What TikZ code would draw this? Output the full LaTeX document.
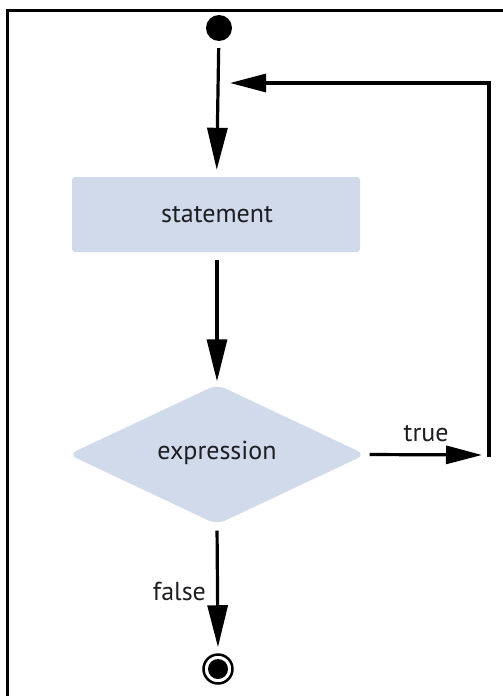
\documentclass[tikz,border=0pt]{standalone}
\usepackage{fontspec}
\setmainfont{PT Sans}
\usetikzlibrary{arrows.meta,shapes.geometric}
\definecolor{boxfill}{RGB}{209,218,234}
\definecolor{ink}{RGB}{30,30,34}
\begin{document}
\begin{tikzpicture}[x=1pt,y=-1pt,
  flow/.style={line width=3.2pt,draw=black},
  vtip/.style={-{Triangle[length=42pt,width=20pt]}},
  htip/.style={-{Triangle[length=36pt,width=18pt]}},
  lbl/.style={font=\fontsize{26}{30}\selectfont,text=ink,inner sep=0pt},
  actbox/.style={rectangle,rounded corners=3pt,fill=boxfill,minimum width=288pt,minimum height=75pt,inner sep=0pt},
  decbox/.style={diamond,rounded corners=9pt,fill=boxfill,minimum width=297pt,minimum height=140pt,aspect=2.12,inner sep=0pt}]
  \useasboundingbox (0,0) rectangle (503,696);
  % frame edges
  \draw[line width=3pt] (7,696) -- (7,10) -- (503,10);
  % nodes
  \node[circle,fill=black,minimum size=26pt,inner sep=0pt] (start) at (219,28) {};
  \node[actbox] (stmt) at (216,214.5) {};
  \node[lbl] at (217,215) {statement};
  \node[decbox] (expr) at (217,454.5) {};
  \node[lbl] at (217,453) {expression};
  \node[circle,draw=black,line width=2.5pt,minimum size=29pt,inner sep=0pt] (stop) at (218,669) {};
  \node[circle,fill=black,minimum size=20pt,inner sep=0pt] at (stop) {};
  % loop-back route
  \coordinate (truetip) at (482,455);
  \coordinate (loopbot) at (489,457);
  \coordinate (loopin) at (230,83);
  % connectors
  \draw[flow,vtip,shorten <=7pt,shorten >=7pt] (start) -- (stmt);
  \draw[flow,vtip,shorten <=8pt,shorten >=3pt] (stmt.south -| expr) -- (expr.north);
  \draw[flow,htip,shorten <=4pt] (expr.east) -- node[lbl,above=11pt,pos=0.52] {true} (truetip);
  \draw[flow,htip] (loopbot) |- (loopin);
  \draw[flow,vtip,shorten <=6pt,shorten >=6pt] (expr.south) -- node[lbl,left=10pt,pos=0.52] {false} (stop.north);
\end{tikzpicture}
\end{document}
